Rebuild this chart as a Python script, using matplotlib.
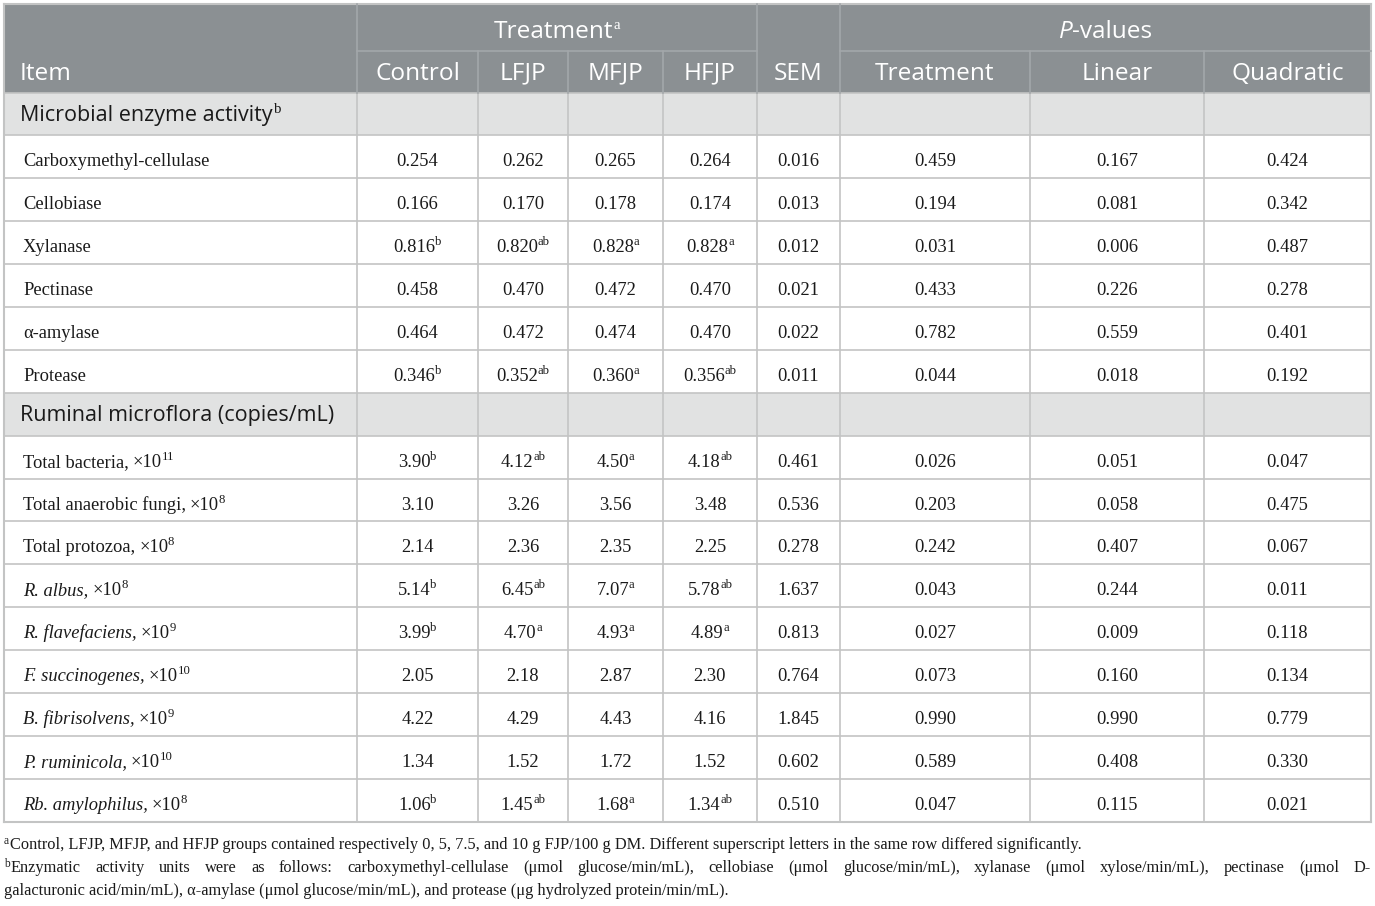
import matplotlib
matplotlib.use("Agg")
import matplotlib.pyplot as plt

# ---------------- data ----------------
treat_cols = ["Control", "LFJP", "MFJP", "HFJP"]
p_cols = ["Treatment", "Linear", "Quadratic"]

enzyme_items = ["Carboxymethyl-cellulase", "Cellobiase", "Xylanase", "Pectinase",
                "α-amylase", "Protease"]
enzyme_control = ["0.254", "0.166", "0.816", "0.458", "0.464", "0.346"]
enzyme_control_sup = ["", "", "b", "", "", "b"]
enzyme_lfjp = ["0.262", "0.170", "0.820", "0.470", "0.472", "0.352"]
enzyme_lfjp_sup = ["", "", "ab", "", "", "ab"]
enzyme_mfjp = ["0.265", "0.178", "0.828", "0.472", "0.474", "0.360"]
enzyme_mfjp_sup = ["", "", "a", "", "", "a"]
enzyme_hfjp = ["0.264", "0.174", "0.828", "0.470", "0.470", "0.356"]
enzyme_hfjp_sup = ["", "", "a", "", "", "ab"]
enzyme_sem = ["0.016", "0.013", "0.012", "0.021", "0.022", "0.011"]
enzyme_p_treat = ["0.459", "0.194", "0.031", "0.433", "0.782", "0.044"]
enzyme_p_lin = ["0.167", "0.081", "0.006", "0.226", "0.559", "0.018"]
enzyme_p_quad = ["0.424", "0.342", "0.487", "0.278", "0.401", "0.192"]

flora_names = ["Total bacteria,", "Total anaerobic fungi,", "Total protozoa,", "R. albus,",
               "R. flavefaciens,", "F. succinogenes,", "B. fibrisolvens,", "P. ruminicola,",
               "Rb. amylophilus,"]
flora_italic = [False, False, False, True, True, True, True, True, True]
flora_exp = ["11", "8", "8", "8", "9", "10", "9", "10", "8"]
flora_control = ["3.90", "3.10", "2.14", "5.14", "3.99", "2.05", "4.22", "1.34", "1.06"]
flora_control_sup = ["b", "", "", "b", "b", "", "", "", "b"]
flora_lfjp = ["4.12", "3.26", "2.36", "6.45", "4.70", "2.18", "4.29", "1.52", "1.45"]
flora_lfjp_sup = ["ab", "", "", "ab", "a", "", "", "", "ab"]
flora_mfjp = ["4.50", "3.56", "2.35", "7.07", "4.93", "2.87", "4.43", "1.72", "1.68"]
flora_mfjp_sup = ["a", "", "", "a", "a", "", "", "", "a"]
flora_hfjp = ["4.18", "3.48", "2.25", "5.78", "4.89", "2.30", "4.16", "1.52", "1.34"]
flora_hfjp_sup = ["ab", "", "", "ab", "a", "", "", "", "ab"]
flora_sem = ["0.461", "0.536", "0.278", "1.637", "0.813", "0.764", "1.845", "0.602", "0.510"]
flora_p_treat = ["0.026", "0.203", "0.242", "0.043", "0.027", "0.073", "0.990", "0.589", "0.047"]
flora_p_lin = ["0.051", "0.058", "0.407", "0.244", "0.009", "0.160", "0.990", "0.408", "0.115"]
flora_p_quad = ["0.047", "0.475", "0.067", "0.011", "0.118", "0.134", "0.779", "0.330", "0.021"]

section_titles = ["Microbial enzyme activity", "Ruminal microflora (copies/mL)"]
section_sups = ["b", ""]

footnote_a = ("Control, LFJP, MFJP, and HFJP groups contained respectively 0, 5, 7.5, and 10 g "
              "FJP/100 g DM. Different superscript letters in the same row differed significantly.")
footnote_b1 = ("Enzymatic activity units were as follows: carboxymethyl-cellulase (μmol glucose/min/mL), "
               "cellobiase (μmol glucose/min/mL), xylanase (μmol xylose/min/mL), pectinase (μmol D-")
footnote_b2 = ("galacturonic acid/min/mL), α-amylase (μmol glucose/min/mL), and protease "
               "(μg hydrolyzed protein/min/mL).")

# ---------------- layout ----------------
W, H = 1375, 906
fig = plt.figure(figsize=(W / 100, H / 100), dpi=100)
ax = fig.add_axes([0, 0, 1, 1])
ax.set_xlim(0, W)
ax.set_ylim(H, 0)
ax.axis("off")
R = fig.canvas.get_renderer()

SANS = "Open Sans"
SERIF = "Liberation Serif"
HDR_BG = "#8b9093"
HDR_LINE = "#a3a7aa"
SEC_BG = "#e1e2e2"
GRID = "#c3c4c4"
TXT = "#1a1a1a"

col_edges = [4, 357, 478, 568, 663, 757, 840, 1030, 1204, 1371]
col_centers = [(col_edges[i] + col_edges[i + 1]) / 2 for i in range(len(col_edges) - 1)]
y_top, y_mid, y_hdr = 4, 51, 92.5
RH = 42.9

HS = 17.6   # header font size
SS = 15.5   # section font size
DS = 13.3   # data font size
SUPS = 9.2  # superscript size
SUPGAP = -0.3


def width(t):
    return t.get_window_extent(renderer=R).width


def runs(x, y, parts, ha="left", color=TXT):
    """parts: list of (text, family, size, style, raise_px, gap_before_px)"""
    objs = []
    total = 0
    for s, fam, size, style, dy, gap in parts:
        t = ax.text(0, y - dy, s, ha="left", va="baseline", family=fam,
                    fontsize=size, style=style, color=color)
        w = width(t)
        objs.append((t, gap, w))
        total += gap + w
    cx = x - total / 2 if ha == "center" else x
    for t, gap, w in objs:
        cx += gap
        t.set_x(cx)
        cx += w
    return cx


# header background
ax.add_patch(plt.Rectangle((col_edges[0], y_top), col_edges[-1] - col_edges[0], y_hdr - y_top,
                           facecolor=HDR_BG, edgecolor="none", zorder=0))

# row geometry
rows = []
y = y_hdr
rows.append((y, "sec", 0)); y += RH
for i in range(len(enzyme_items)):
    rows.append((y, "enz", i)); y += RH
rows.append((y, "sec", 1)); y += RH
for i in range(len(flora_names)):
    rows.append((y, "flo", i)); y += RH
y_bottom = y

for top, kind, i in rows:
    if kind == "sec":
        ax.add_patch(plt.Rectangle((col_edges[0], top), col_edges[-1] - col_edges[0], RH,
                                   facecolor=SEC_BG, edgecolor="none", zorder=0))

# grid lines - body
for top, kind, i in rows:
    ax.plot([col_edges[0], col_edges[-1]], [top, top], color=GRID, lw=1.2, zorder=1)
ax.plot([col_edges[0], col_edges[-1]], [y_bottom, y_bottom], color=GRID, lw=1.5, zorder=1)
for xe in col_edges:
    ax.plot([xe, xe], [y_hdr, y_bottom], color=GRID, lw=1.2, zorder=1)
ax.plot([col_edges[0], col_edges[-1]], [y_top, y_top], color=GRID, lw=1.5, zorder=1)
ax.plot([col_edges[0], col_edges[0]], [y_top, y_bottom], color=GRID, lw=1.5, zorder=1)
ax.plot([col_edges[-1], col_edges[-1]], [y_top, y_bottom], color=GRID, lw=1.5, zorder=1)

# header lines
for xe in [357, 757, 840]:
    ax.plot([xe, xe], [y_top, y_hdr], color=HDR_LINE, lw=1.2, zorder=1)
for xe in [478, 568, 663, 1030, 1204]:
    ax.plot([xe, xe], [y_mid, y_hdr], color=HDR_LINE, lw=1.2, zorder=1)
ax.plot([357, 757], [y_mid, y_mid], color=HDR_LINE, lw=1.2, zorder=1)
ax.plot([840, 1371], [y_mid, y_mid], color=HDR_LINE, lw=1.2, zorder=1)

# header text
b1, b2 = 38.0, 79.5
runs(20, b2, [("Item", SANS, HS, "normal", 0, 0)], color="white")
runs((357 + 757) / 2, b1, [("Treatment", SANS, HS, "normal", 0, 0),
                           ("a", SERIF, SUPS + 1.5, "normal", 9, 0.5)], ha="center", color="white")
runs(col_centers[5], b2, [("SEM", SANS, HS, "normal", 0, 0)], ha="center", color="white")
runs((840 + 1371) / 2, b1, [("P", SANS, HS, "italic", 0, 0),
                            ("-values", SANS, HS, "normal", 0, 0)], ha="center", color="white")
for j, name in enumerate(treat_cols):
    runs(col_centers[1 + j], b2, [(name, SANS, HS, "normal", 0, 0)], ha="center", color="white")
for j, name in enumerate(p_cols):
    runs(col_centers[6 + j], b2, [(name, SANS, HS, "normal", 0, 0)], ha="center", color="white")


def cell(xc, base, val, sup=""):
    parts = [(val, SERIF, DS, "normal", 0, 0)]
    if sup:
        parts.append((sup, SERIF, SUPS, "normal", 7, SUPGAP))
    runs(xc, base, parts, ha="center")


for top, kind, i in rows:
    base = top + 31
    if kind == "sec":
        parts = [(section_titles[i], SANS, SS, "normal", 0, 0)]
        if section_sups[i]:
            parts.append((section_sups[i], SERIF, SUPS + 1.5, "normal", 8, 1.5))
        runs(20, top + 28.2, parts)
        continue
    if kind == "enz":
        runs(23, base, [(enzyme_items[i], SERIF, DS, "normal", 0, 0)])
        vals = [(enzyme_control[i], enzyme_control_sup[i]), (enzyme_lfjp[i], enzyme_lfjp_sup[i]),
                (enzyme_mfjp[i], enzyme_mfjp_sup[i]), (enzyme_hfjp[i], enzyme_hfjp_sup[i]),
                (enzyme_sem[i], ""), (enzyme_p_treat[i], ""), (enzyme_p_lin[i], ""),
                (enzyme_p_quad[i], "")]
    else:
        style = "italic" if flora_italic[i] else "normal"
        runs(23, base, [(flora_names[i], SERIF, DS, style, 0, 0),
                        ("×10", SERIF, DS, "normal", 0, 4),
                        (flora_exp[i], SERIF, SUPS, "normal", 7, SUPGAP)])
        vals = [(flora_control[i], flora_control_sup[i]), (flora_lfjp[i], flora_lfjp_sup[i]),
                (flora_mfjp[i], flora_mfjp_sup[i]), (flora_hfjp[i], flora_hfjp_sup[i]),
                (flora_sem[i], ""), (flora_p_treat[i], ""), (flora_p_lin[i], ""),
                (flora_p_quad[i], "")]
    for j, (v, s) in enumerate(vals):
        cell(col_centers[1 + j], base, v, s)

# footnotes
FS = 11.8
FSUP = 8.3
runs(4, 849.3, [("a", SERIF, FSUP, "normal", 5, 0), (footnote_a, SERIF, FS, "normal", 0, 1.0)])

# justified line for footnote b
words = footnote_b1.split(" ")
sup_t = ax.text(4, 872.3 - 5, "b", family=SERIF, fontsize=FSUP, va="baseline", color=TXT)
x0 = 4 + width(sup_t) + 1.0
wobjs = []
for wd in words:
    t = ax.text(0, 872.3, wd, family=SERIF, fontsize=FS, va="baseline", color=TXT)
    wobjs.append((t, width(t)))
total_w = sum(w for _, w in wobjs)
gap = (1371 - x0 - total_w) / (len(wobjs) - 1)
cx = x0
for t, w in wobjs:
    t.set_x(cx)
    cx += w + gap
runs(4, 895, [(footnote_b2, SERIF, FS, "normal", 0, 0)])

fig.savefig("out.png", dpi=100, facecolor="white")
